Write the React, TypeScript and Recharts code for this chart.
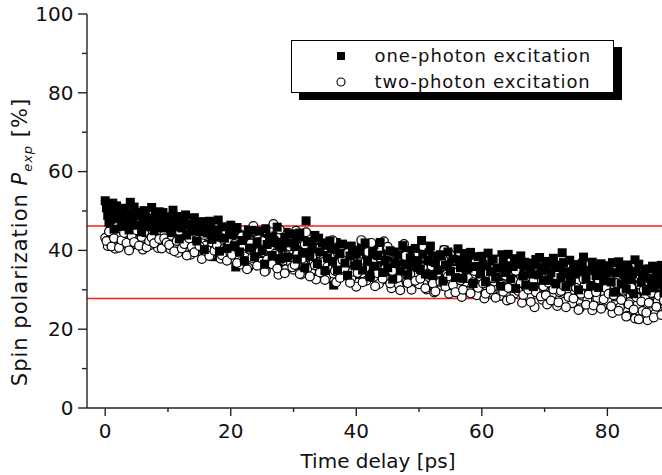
import React from "react";
import { ScatterChart, Scatter, XAxis, YAxis, ReferenceLine, Legend, Label } from "recharts";

// Time delay (ps) sample positions, first set
const timeDelay = [
  0, 0.4, 0.8, 1.2, 1.6, 2, 2.4, 2.8, 3.2, 3.6, 4, 4.4, 4.8, 5.2, 5.6, 6, 6.4, 6.8, 7.2, 7.6, 8, 8.4, 8.8, 9.2, 9.6,
  10, 10.4, 10.8, 11.2, 11.6, 12, 12.4, 12.8, 13.2, 13.6, 14, 14.4, 14.8, 15.2, 15.6, 16, 16.4, 16.8, 17.2, 17.6, 18, 18.4, 18.8, 19.2, 19.6,
  20, 20.4, 20.8, 21.2, 21.6, 22, 22.4, 22.8, 23.2, 23.6, 24, 24.4, 24.8, 25.2, 25.6, 26, 26.4, 26.8, 27.2, 27.6, 28, 28.4, 28.8, 29.2, 29.6,
  30, 30.4, 30.8, 31.2, 31.6, 32, 32.4, 32.8, 33.2, 33.6, 34, 34.4, 34.8, 35.2, 35.6, 36, 36.4, 36.8, 37.2, 37.6, 38, 38.4, 38.8, 39.2, 39.6,
  40, 40.4, 40.8, 41.2, 41.6, 42, 42.4, 42.8, 43.2, 43.6, 44, 44.4, 44.8, 45.2, 45.6, 46, 46.4, 46.8, 47.2, 47.6, 48, 48.4, 48.8, 49.2, 49.6,
  50, 50.4, 50.8, 51.2, 51.6, 52, 52.4, 52.8, 53.2, 53.6, 54, 54.4, 54.8, 55.2, 55.6, 56, 56.4, 56.8, 57.2, 57.6, 58, 58.4, 58.8, 59.2, 59.6,
  60, 60.4, 60.8, 61.2, 61.6, 62, 62.4, 62.8, 63.2, 63.6, 64, 64.4, 64.8, 65.2, 65.6, 66, 66.4, 66.8, 67.2, 67.6, 68, 68.4, 68.8, 69.2, 69.6,
  70, 70.4, 70.8, 71.2, 71.6, 72, 72.4, 72.8, 73.2, 73.6, 74, 74.4, 74.8, 75.2, 75.6, 76, 76.4, 76.8, 77.2, 77.6, 78, 78.4, 78.8, 79.2, 79.6,
  80, 80.4, 80.8, 81.2, 81.6, 82, 82.4, 82.8, 83.2, 83.6, 84, 84.4, 84.8, 85.2, 85.6, 86, 86.4, 86.8, 87.2, 87.6, 88, 88.4, 88.8, 89.2, 89.6,
];

// Time delay (ps) sample positions, interleaved second set
const timeDelayB = [
  0.2, 0.6, 1, 1.4, 1.8, 2.2, 2.6, 3, 3.4, 3.8, 4.2, 4.6, 5, 5.4, 5.8, 6.2, 6.6, 7, 7.4, 7.8, 8.2, 8.6, 9, 9.4, 9.8,
  10.2, 10.6, 11, 11.4, 11.8, 12.2, 12.6, 13, 13.4, 13.8, 14.2, 14.6, 15, 15.4, 15.8, 16.2, 16.6, 17, 17.4, 17.8, 18.2, 18.6, 19, 19.4, 19.8,
  20.2, 20.6, 21, 21.4, 21.8, 22.2, 22.6, 23, 23.4, 23.8, 24.2, 24.6, 25, 25.4, 25.8, 26.2, 26.6, 27, 27.4, 27.8, 28.2, 28.6, 29, 29.4, 29.8,
  30.2, 30.6, 31, 31.4, 31.8, 32.2, 32.6, 33, 33.4, 33.8, 34.2, 34.6, 35, 35.4, 35.8, 36.2, 36.6, 37, 37.4, 37.8, 38.2, 38.6, 39, 39.4, 39.8,
  40.2, 40.6, 41, 41.4, 41.8, 42.2, 42.6, 43, 43.4, 43.8, 44.2, 44.6, 45, 45.4, 45.8, 46.2, 46.6, 47, 47.4, 47.8, 48.2, 48.6, 49, 49.4, 49.8,
  50.2, 50.6, 51, 51.4, 51.8, 52.2, 52.6, 53, 53.4, 53.8, 54.2, 54.6, 55, 55.4, 55.8, 56.2, 56.6, 57, 57.4, 57.8, 58.2, 58.6, 59, 59.4, 59.8,
  60.2, 60.6, 61, 61.4, 61.8, 62.2, 62.6, 63, 63.4, 63.8, 64.2, 64.6, 65, 65.4, 65.8, 66.2, 66.6, 67, 67.4, 67.8, 68.2, 68.6, 69, 69.4, 69.8,
  70.2, 70.6, 71, 71.4, 71.8, 72.2, 72.6, 73, 73.4, 73.8, 74.2, 74.6, 75, 75.4, 75.8, 76.2, 76.6, 77, 77.4, 77.8, 78.2, 78.6, 79, 79.4, 79.8,
  80.2, 80.6, 81, 81.4, 81.8, 82.2, 82.6, 83, 83.4, 83.8, 84.2, 84.6, 85, 85.4, 85.8, 86.2, 86.6, 87, 87.4, 87.8, 88.2, 88.6, 89, 89.4, 89.8,
];

// Spin polarization (%) – one-photon excitation (filled squares), first set
const onePhoton = [
  52.6, 48.9, 46.5, 52.0, 47.8, 49.5, 44.8, 48.3, 50.4, 46.8, 52.2, 47.4, 49.1, 45.9, 49.7, 47.0, 48.6, 44.9, 48.0, 46.6, 49.3, 44.6, 47.9, 49.6, 46.2,
  45.1, 47.6, 50.2, 44.3, 46.8, 43.5, 48.1, 49.0, 44.9, 42.6, 40.7, 46.3, 43.8, 47.3, 42.1, 45.6, 43.2, 46.9, 41.5, 38.4, 47.7, 44.0, 42.3, 45.4, 41.0,
  46.4, 42.8, 35.8, 44.1, 40.3, 43.6, 38.9, 45.2, 41.7, 39.5, 44.4, 40.9, 37.6, 43.0, 45.5, 39.2, 41.8, 38.1, 43.7, 40.0, 36.7, 42.5, 44.6, 39.0, 41.2,
  38.2, 42.9, 40.1, 36.4, 43.5, 47.5, 39.4, 41.6, 37.0, 40.8, 43.1, 35.9, 38.7, 41.3, 37.5, 39.9, 31.2, 42.0, 36.3, 38.9, 40.6, 34.8, 37.8, 41.1, 35.6,
  38.4, 33.9, 40.7, 36.2, 39.1, 34.6, 37.7, 41.4, 35.3, 32.1, 38.8, 36.9, 40.2, 34.0, 37.3, 39.6, 33.5, 36.4, 38.2, 35.1, 40.0, 33.2, 37.0, 39.0, 34.5,
  37.8, 42.5, 33.7, 36.5, 39.4, 32.8, 35.9, 38.6, 34.3, 37.1, 40.1, 33.0, 36.0, 38.3, 31.9, 35.4, 37.6, 34.6, 39.2, 32.5, 36.8, 34.1, 38.0, 33.4, 36.2,
  38.5, 33.1, 35.7, 31.4, 37.3, 34.2, 36.6, 32.3, 38.9, 35.0, 30.6, 36.1, 33.6, 37.9, 31.8, 35.3, 33.0, 37.0, 29.9, 34.7, 36.8, 32.6, 35.8, 38.2, 31.5,
  34.9, 37.2, 31.0, 33.8, 36.3, 30.2, 35.1, 39.4, 32.7, 34.6, 37.5, 29.6, 33.3, 35.9, 31.6, 36.7, 33.9, 30.5, 34.8, 37.0, 32.1, 35.4, 29.4, 33.5, 36.1,
  31.2, 34.5, 36.9, 29.8, 33.0, 35.6, 28.6, 32.4, 36.3, 30.7, 34.1, 37.6, 31.3, 28.3, 33.7, 35.2, 30.1, 32.9, 36.0, 29.1, 33.4, 31.6, 34.8, 30.4, 32.7,
];

// Spin polarization (%) – one-photon excitation, second set
const onePhotonB = [
  50.8, 47.2, 49.9, 45.4, 51.3, 48.4, 46.1, 50.7, 47.6, 45.2, 49.0, 51.0, 46.4, 48.8, 44.7, 50.1, 46.0, 48.2, 50.9, 45.0, 47.5, 49.8, 45.7, 47.1, 48.5,
  47.9, 44.5, 46.0, 48.6, 42.9, 45.7, 47.0, 43.9, 46.6, 45.0, 48.3, 42.4, 44.8, 46.1, 40.2, 44.4, 47.4, 42.8, 45.1, 43.6, 39.8, 46.0, 43.1, 40.5, 44.7,
  44.0, 41.2, 45.8, 39.6, 42.5, 37.3, 43.9, 40.6, 45.1, 38.4, 42.2, 44.9, 39.9, 36.5, 41.5, 43.4, 38.7, 42.0, 45.9, 37.9, 40.8, 43.3, 38.2, 41.9, 44.2,
  41.0, 37.8, 44.4, 39.3, 35.6, 42.2, 38.5, 40.4, 43.8, 36.6, 39.6, 41.9, 34.9, 38.1, 42.4, 37.2, 40.3, 35.0, 39.2, 41.6, 36.8, 33.7, 38.6, 40.0, 36.1,
  36.6, 39.8, 35.0, 41.9, 37.2, 33.3, 39.4, 36.0, 38.7, 42.0, 34.4, 37.6, 35.6, 39.9, 32.7, 36.7, 38.9, 34.8, 41.2, 36.3, 33.8, 38.1, 35.9, 40.5, 37.4,
  35.2, 39.0, 34.0, 37.4, 41.1, 33.6, 36.9, 35.0, 38.9, 32.2, 36.3, 39.6, 34.7, 37.8, 33.1, 40.4, 35.6, 32.9, 37.3, 35.5, 39.5, 31.6, 35.9, 38.4, 34.0,
  36.4, 32.0, 39.3, 34.6, 37.8, 33.2, 35.5, 30.9, 37.1, 34.4, 39.0, 32.8, 35.9, 30.3, 36.5, 38.6, 33.5, 31.2, 36.0, 34.0, 30.8, 37.7, 33.8, 35.6, 32.4,
  36.2, 32.4, 34.3, 38.0, 31.5, 35.7, 33.1, 36.9, 30.8, 34.0, 32.2, 36.4, 34.5, 30.0, 35.1, 38.3, 32.8, 34.9, 31.0, 35.8, 33.6, 30.6, 36.6, 32.3, 34.2,
  35.8, 32.0, 29.4, 34.3, 37.1, 31.5, 33.9, 30.2, 35.0, 32.6, 29.0, 34.6, 36.5, 31.9, 33.3, 29.7, 35.3, 32.1, 30.5, 34.1, 31.4, 36.2, 29.3, 33.1, 31.0,
];

// Spin polarization (%) – two-photon excitation (open circles), first set
const twoPhoton = [
  43.2, 41.1, 44.6, 42.3, 40.4, 43.8, 45.6, 41.7, 42.9, 44.2, 40.9, 43.5, 41.6, 44.9, 42.0, 40.2, 43.0, 45.3, 41.4, 42.7, 44.0, 40.6, 42.5, 43.9, 41.3,
  42.8, 40.3, 44.1, 41.5, 39.4, 43.3, 45.8, 40.7, 42.2, 38.9, 41.9, 44.5, 40.0, 42.6, 39.1, 41.2, 43.6, 38.5, 40.8, 42.9, 39.6, 37.9, 41.7, 44.2, 39.3,
  40.5, 37.8, 42.1, 38.6, 36.4, 40.9, 39.0, 35.6, 41.8, 46.2, 38.3, 43.0, 37.1, 39.5, 34.9, 38.0, 40.4, 46.7, 38.9, 33.8, 44.1, 37.4, 35.2, 39.7, 36.8,
  35.1, 45.0, 37.6, 33.9, 36.5, 44.6, 38.2, 34.7, 36.9, 32.6, 39.3, 35.5, 37.8, 33.2, 36.0, 38.7, 34.1, 31.9, 36.6, 39.8, 33.6, 35.8, 37.2, 32.9, 35.0,
  30.8, 36.4, 42.6, 34.0, 32.3, 37.5, 41.9, 33.1, 35.7, 31.5, 34.8, 42.3, 32.6, 36.2, 30.4, 33.9, 37.9, 31.2, 34.5, 41.6, 32.0, 35.3, 30.0, 33.6, 36.5,
  31.4, 34.9, 38.4, 30.1, 33.2, 36.0, 29.3, 32.7, 35.6, 31.0, 40.1, 33.9, 29.0, 32.2, 35.1, 30.6, 33.5, 28.2, 31.8, 36.3, 29.7, 32.9, 34.8, 28.6, 31.3,
  33.0, 27.8, 30.9, 34.6, 29.2, 32.1, 37.5, 28.4, 31.5, 34.0, 27.3, 30.3, 33.2, 29.0, 35.8, 31.0, 26.7, 30.6, 33.7, 28.1, 31.9, 25.6, 29.6, 32.8, 27.5,
  30.7, 26.3, 33.4, 28.8, 31.6, 25.9, 29.4, 32.5, 27.0, 30.2, 34.1, 26.6, 29.1, 31.9, 25.3, 28.5, 31.2, 27.4, 33.0, 24.8, 29.8, 27.9, 31.4, 25.7, 28.9,
  27.2, 30.8, 24.1, 28.3, 32.6, 25.5, 27.7, 30.1, 23.4, 26.9, 29.5, 22.7, 26.2, 31.3, 24.6, 28.0, 22.3, 26.5, 29.9, 23.9, 27.1, 31.0, 24.4, 26.8, 22.9,
];

// Spin polarization (%) – two-photon excitation, second set
const twoPhotonB = [
  42.4, 44.8, 41.0, 43.1, 45.9, 40.7, 42.6, 44.4, 41.9, 40.0, 43.7, 42.1, 45.1, 41.2, 43.4, 44.6, 40.8, 42.4, 43.3, 41.8, 45.0, 42.9, 40.5, 43.1, 42.0,
  41.4, 43.7, 39.8, 42.4, 44.9, 40.5, 41.6, 38.7, 43.0, 40.9, 39.5, 42.7, 41.1, 37.8, 43.9, 40.2, 38.6, 42.0, 39.9, 41.3, 43.5, 38.8, 40.6, 37.4, 41.9,
  38.9, 41.6, 36.8, 39.4, 43.6, 37.3, 35.2, 40.2, 38.1, 44.8, 36.1, 39.8, 42.4, 34.6, 37.7, 40.7, 36.5, 39.1, 35.4, 45.3, 37.9, 34.2, 38.5, 41.0, 35.7,
  36.3, 39.0, 34.0, 37.9, 41.5, 35.4, 33.4, 38.6, 36.2, 40.4, 34.4, 37.0, 32.5, 35.9, 38.4, 42.6, 34.8, 36.7, 33.0, 37.6, 35.3, 39.3, 31.8, 34.6, 36.9,
  34.3, 37.0, 31.9, 35.6, 39.6, 33.3, 36.9, 30.9, 34.2, 38.2, 32.8, 35.4, 40.9, 31.6, 34.7, 36.8, 33.0, 29.9, 35.2, 38.6, 31.7, 34.0, 36.6, 32.3, 39.2,
  32.8, 35.7, 30.4, 33.9, 37.3, 31.6, 29.6, 34.3, 32.0, 36.6, 30.8, 33.4, 38.9, 31.2, 29.4, 34.5, 32.4, 30.0, 35.4, 33.0, 29.1, 31.9, 37.0, 30.5, 33.3,
  31.6, 29.0, 34.2, 30.1, 32.9, 28.0, 35.2, 31.3, 29.5, 33.6, 30.5, 27.6, 32.4, 34.8, 29.7, 31.8, 28.7, 33.1, 30.0, 26.9, 32.2, 29.4, 34.5, 28.3, 30.9,
  28.6, 31.8, 27.3, 30.1, 33.7, 26.8, 29.7, 31.1, 25.6, 28.2, 32.3, 27.8, 30.5, 24.9, 29.0, 32.7, 26.2, 28.8, 30.9, 26.0, 29.4, 32.0, 25.2, 27.6, 30.4,
  29.0, 25.8, 28.6, 31.7, 24.7, 27.4, 29.8, 23.2, 26.3, 30.6, 25.0, 28.1, 22.5, 27.0, 30.0, 24.2, 26.7, 29.2, 23.0, 25.7, 28.5, 23.6, 27.3, 25.1, 28.7,
];

const seriesNames = ["one-photon excitation", "two-photon excitation"];
const xTicks = [0, 10, 20, 30, 40, 50, 60, 70, 80];
const yTicks = [0, 10, 20, 30, 40, 50, 60, 70, 80, 90, 100];
const redLines = [46.2, 27.8];
const xDomain = [-2.9, 88.7];
const yDomain = [0, 100];

const oneDataA = timeDelay.map((t, i) => ({ t, p: onePhoton[i] }));
const oneDataB = timeDelayB.map((t, i) => ({ t, p: onePhotonB[i] }));
const twoData = [
  ...timeDelay.map((t, i) => ({ t, p: twoPhoton[i] })),
  ...timeDelayB.map((t, i) => ({ t, p: twoPhotonB[i] })),
];

const FONT = "'DejaVu Sans', 'Liberation Sans', Arial, sans-serif";
const AX = "#222";

const XTick = (props: any) => {
  const { x, y, payload } = props;
  const v = payload.value;
  const major = v % 20 === 0;
  return (
    <g>
      <line x1={x} y1={y} x2={x} y2={y + (major ? 8 : 4)} stroke={AX} strokeWidth={1.4} />
      {major && (
        <text x={x} y={y + 30} textAnchor="middle" fontFamily={FONT} fontSize={20} fill="#111">
          {v}
        </text>
      )}
    </g>
  );
};

const YTick = (props: any) => {
  const { x, y, payload } = props;
  const v = payload.value;
  const major = v % 20 === 0;
  return (
    <g>
      <line x1={x - (major ? 9 : 5)} y1={y} x2={x} y2={y} stroke={AX} strokeWidth={1.4} />
      {major && (
        <text x={x - 13.5} y={y} dy="0.34em" textAnchor="end" fontFamily={FONT} fontSize={20} fill="#111">
          {v}
        </text>
      )}
    </g>
  );
};

const SquareShape = (props: any) => {
  const { cx, cy } = props;
  if (cx == null || cy == null) return null;
  return <rect x={cx - 4.5} y={cy - 4.5} width={9} height={9} fill="#000" />;
};

const CircleShape = (props: any) => {
  const { cx, cy } = props;
  if (cx == null || cy == null) return null;
  return <circle cx={cx} cy={cy} r={4.4} fill="#fff" stroke="#000" strokeWidth={1.2} />;
};

const LegendBox = () => (
  <div
    style={{
      position: "relative",
      width: 321,
      height: 51,
      border: "1.5px solid #000",
      boxShadow: "8px 7px 0 #000",
      background: "#fff",
      fontFamily: FONT,
      fontSize: 18,
      letterSpacing: 0.9,
      color: "#111",
    }}
  >
    {seriesNames.map((name, i) => (
      <div
        key={name}
        style={{
          position: "absolute",
          left: 42.5,
          top: 2.5 + i * 26,
          height: 24,
          display: "flex",
          alignItems: "center",
          whiteSpace: "nowrap",
        }}
      >
        <svg width={12} height={12} style={{ display: "block" }}>
          {i === 0 ? (
            <rect x={2} y={2} width={8} height={8} fill="#000" />
          ) : (
            <circle cx={6} cy={6} r={4} fill="#fff" stroke="#000" strokeWidth={1.1} />
          )}
        </svg>
        <span style={{ marginLeft: 28 }}>{name}</span>
      </div>
    ))}
  </div>
);

const YLabel = () => (
  <text
    transform="translate(27, 242) rotate(-90)"
    textAnchor="middle"
    fontFamily={FONT}
    fontSize={21}
    letterSpacing={1}
    fill="#111"
  >
    <tspan>Spin polarization </tspan>
    <tspan fontStyle="italic">P</tspan>
    <tspan fontStyle="italic" fontSize={13} dy={5}>exp</tspan>
    <tspan dy={-5}> [%]</tspan>
  </text>
);

const XLabel = () => (
  <text x={378} y={468} textAnchor="middle" fontFamily={FONT} fontSize={20} fill="#111">
    Time delay [ps]
  </text>
);

export default function App() {
  return (
    <div style={{ position: "absolute", left: 0, top: 0, width: 662, height: 475, background: "#fff" }}>
      <ScatterChart width={662} height={475} margin={{ top: 14, right: 0, bottom: 0, left: 0 }}>
        <XAxis
          dataKey="t"
          type="number"
          domain={xDomain}
          allowDataOverflow
          ticks={xTicks}
          interval={0}
          tick={<XTick />}
          tickLine={false}
          tickSize={0}
          tickMargin={0}
          height={67}
          axisLine={{ stroke: AX, strokeWidth: 1.4 }}
        >
          <Label content={<XLabel />} />
        </XAxis>
        <XAxis
          xAxisId="top"
          orientation="top"
          dataKey="t"
          type="number"
          domain={xDomain}
          allowDataOverflow
          tick={false}
          tickLine={false}
          height={0}
          axisLine={{ stroke: "#444", strokeWidth: 1.4 }}
        />
        <YAxis
          dataKey="p"
          type="number"
          domain={yDomain}
          allowDataOverflow
          ticks={yTicks}
          interval={0}
          tick={<YTick />}
          tickLine={false}
          tickSize={0}
          tickMargin={0}
          width={87}
          axisLine={{ stroke: AX, strokeWidth: 1.4 }}
        >
          <Label content={<YLabel />} />
        </YAxis>
        <Legend
          layout="horizontal"
          verticalAlign="middle"
          align="center"
          wrapperStyle={{ left: 291, top: 40, width: 324, height: 54 }}
          content={() => <LegendBox />}
        />
        <Scatter name={seriesNames[0]} data={oneDataA} shape={SquareShape} isAnimationActive={false} />
        <Scatter name={seriesNames[1]} data={twoData} shape={CircleShape} isAnimationActive={false} />
        <Scatter name={seriesNames[0]} data={oneDataB} shape={SquareShape} isAnimationActive={false} />
        {redLines.map((v) => (
          <ReferenceLine key={v} y={v} stroke="#ff1a1a" strokeWidth={1.6} />
        ))}
      </ScatterChart>
    </div>
  );
}
